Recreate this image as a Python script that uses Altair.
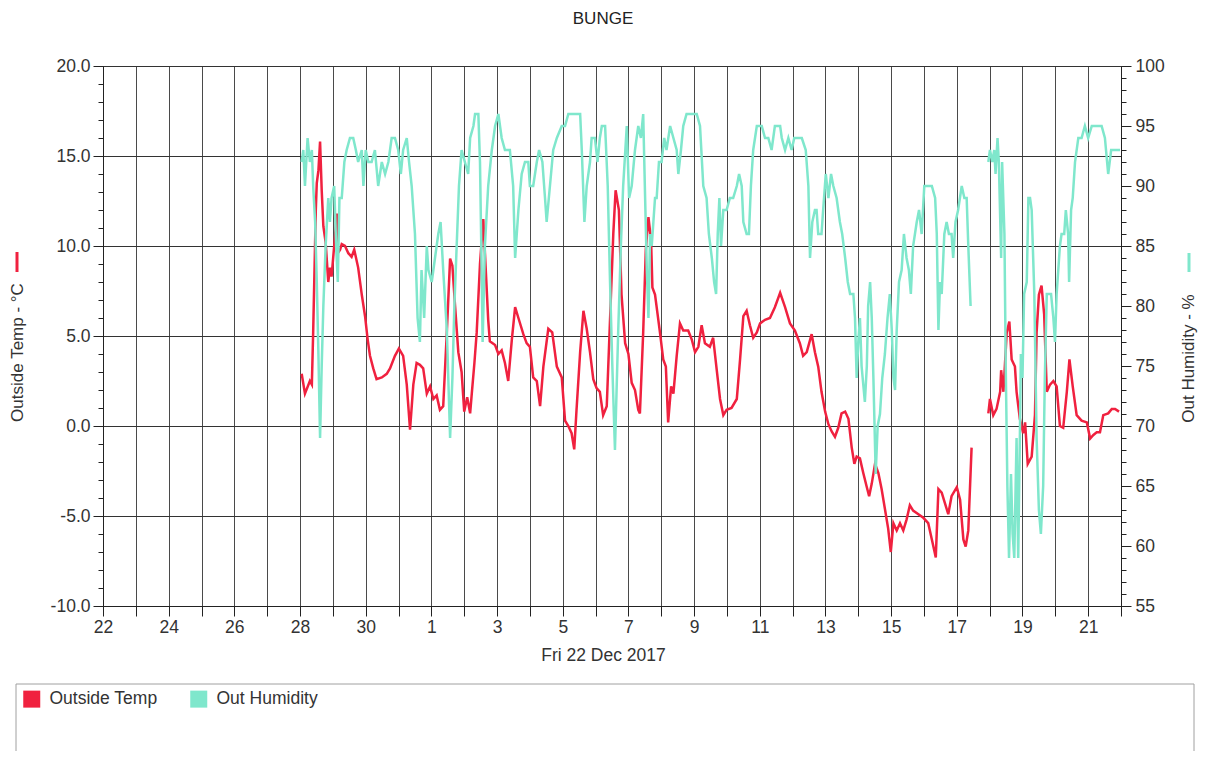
import altair as alt
import pandas as pd

# ---------------- data (day index: 0 = first x label "22") ----------------
chart_title = "BUNGE"
x_labels = ['22', '24', '26', '28', '30', '1', '3', '5', '7', '9', '11',
            '13', '15', '17', '19', '21']

temp_day1 = [6.05, 6.15, 6.30, 6.36, 6.40, 6.48, 6.51, 6.56, 6.61, 6.66, 6.71, 6.78, 6.86, 6.91, 6.96,
             7.04, 7.12, 7.15, 7.22, 7.27, 7.37, 7.47, 7.57, 7.65, 7.77, 7.88, 7.98, 8.06, 8.13, 8.23,
             8.33, 8.49, 8.64, 8.74, 8.89, 9.01, 9.14, 9.25, 9.35, 9.45, 9.55, 9.65, 9.75, 9.86, 9.96,
             10.06, 10.16, 10.26, 10.36, 10.47, 10.57, 10.64, 10.72, 10.82, 10.92, 11.00, 11.09, 11.18,
             11.23, 11.31, 11.38, 11.48, 11.58, 11.65, 11.73, 11.78, 11.94, 12.04, 12.14, 12.24, 12.34,
             12.45, 12.55, 12.65, 12.80, 12.90, 13.00, 13.10, 13.21, 13.31, 13.41, 13.56, 13.68, 13.82,
             13.97, 14.07, 14.17, 14.27, 14.35, 14.42, 14.53, 14.63, 14.73, 14.83, 14.93, 15.03, 15.13,
             15.23, 15.34, 15.44, 15.54, 15.61, 15.71, 15.79, 15.90, 16.00, 16.10, 16.20, 16.30, 16.35,
             16.45, 16.53, 16.61, 16.69, 16.73, 16.81, 16.86, 16.96, 17.06, 17.14, 17.21, 17.30, 17.37,
             17.47, 17.57, 17.67, 17.82, 17.93, 18.03, 18.13, 18.23, 18.33, 18.48, 18.58, 18.69, 18.79,
             18.89, 18.99, 19.14, 19.30, 19.40, 19.50, 19.60, 19.70, 19.80, 19.91, 20.01, 20.16, 20.31,
             20.46, 20.62, 20.77, 20.92, 21.07, 21.22, 21.32, 21.43, 21.58, 21.68, 21.78, 21.88, 21.99,
             22.09, 22.19, 22.29, 22.39, 22.49, 22.60, 22.70, 22.80, 22.88, 22.95, 23.05, 23.15, 23.26,
             23.33, 23.41, 23.51, 23.61, 23.71, 23.81, 23.91, 23.99, 24.07, 24.17, 24.27, 24.37, 24.47,
             24.57, 24.67, 24.83, 24.98, 25.13, 25.24, 25.36, 25.44, 25.54, 25.64, 25.74, 25.84, 26.00,
             26.10, 26.20, 26.27, 26.35, 26.45]
temp_val1 = [2.9, 1.8, 2.5, 2.3, 5.2, 12.0, 13.5, 14.2, 15.8, 13.1, 11.1, 10.2, 8.0, 8.8, 8.3,
             10.0, 11.8, 9.6, 9.8, 10.1, 10.0, 9.6, 9.4, 9.8, 8.8, 7.3, 6.1, 4.8, 3.9, 3.2,
             2.6, 2.7, 2.9, 3.2, 3.9, 4.3, 3.9, 2.3, -0.2, 2.3, 3.5, 3.4, 3.2, 1.8, 2.2,
             1.5, 1.7, 0.9, 1.1, 5.2, 9.3, 8.9, 6.7, 4.1, 3.0, 0.8, 1.6, 0.7,
             1.8, 3.5, 5.2, 9.0, 11.5, 8.9, 5.9, 4.7, 4.5, 4.0, 4.2, 3.5, 2.5,
             4.8, 6.6, 6.0, 5.1, 4.6, 4.4, 2.7, 2.5, 1.1, 3.3, 5.4, 5.2, 3.3,
             2.7, 0.3, 0.0, -0.4, -1.3, 0.9, 4.1, 6.4, 5.4, 4.1, 2.6, 2.1, 1.9,
             0.6, 1.1, 5.9, 10.7, 13.1, 12.0, 7.3, 4.6, 4.0, 2.4, 2.0, 0.9, 0.7,
             5.2, 9.8, 11.6, 10.3, 7.7, 7.3, 6.6, 5.2, 3.7, 3.3, 0.2, 2.2, 1.8,
             3.9, 5.7, 5.3, 5.3, 4.8, 4.1, 4.4, 5.6, 4.6, 4.4, 4.9, 3.1, 1.5,
             0.6, 0.9, 1.0, 1.5, 3.7, 6.1, 6.4, 5.6, 4.9, 5.2, 5.7, 5.9, 6.0,
             6.6, 7.4, 6.6, 5.7, 5.3, 4.6, 3.9, 4.1, 5.1, 4.1, 3.3, 1.9, 0.8,
             0.1, -0.3, -0.6, -0.1, 0.7, 0.8, 0.4, -1.2, -2.1, -1.7, -1.8, -2.6, -3.4,
             -3.9, -3.2, -2.1, -2.6, -3.5, -4.6, -5.7, -7.0, -5.4, -5.8, -5.4, -5.8, -5.2,
             -4.4, -4.7, -4.9, -5.1, -5.4, -6.3, -7.3, -3.5, -3.7, -4.3, -4.9, -3.9, -3.4,
             -4.1, -6.3, -6.7, -5.8, -1.2]

temp_day2 = [26.96, 27.01, 27.11, 27.21, 27.32, 27.35, 27.42, 27.52, 27.60, 27.67, 27.77, 27.82,
             27.92, 28.02, 28.08, 28.16, 28.28, 28.38, 28.43, 28.50, 28.58, 28.66, 28.74, 28.84,
             28.94, 29.04, 29.14, 29.24, 29.35, 29.43, 29.53, 29.65, 29.80, 29.96, 30.06, 30.16,
             30.26, 30.36, 30.46, 30.61, 30.72, 30.82, 30.94]
temp_val2 = [0.7, 1.5, 0.6, 0.95, 1.9, 3.1, 1.9, 5.2, 5.8, 3.7, 3.3, 1.9,
             0.4, -0.4, 0.2, -2.1, -1.7, 0.6, 5.2, 7.3, 7.8, 6.2, 1.9, 2.3,
             2.5, 2.2, 0.0, -0.1, 1.9, 3.7, 2.2, 0.6, 0.3, 0.2, -0.7, -0.5,
             -0.35, -0.35, 0.6, 0.7, 0.95, 0.95, 0.8]

hum_day1 = [6.05, 6.10, 6.15, 6.23, 6.30, 6.36, 6.40, 6.46, 6.51, 6.56, 6.61, 6.66, 6.71, 6.78, 6.86,
            6.91, 6.96, 7.04, 7.10, 7.15, 7.20, 7.27, 7.35, 7.42, 7.52, 7.62, 7.70, 7.77, 7.88, 7.93,
            8.00, 8.08, 8.18, 8.28, 8.38, 8.49, 8.59, 8.69, 8.79, 8.89, 8.99, 9.07, 9.14, 9.25, 9.32,
            9.40, 9.50, 9.58, 9.65, 9.70, 9.78, 9.86, 9.91, 10.01, 10.11, 10.21, 10.28, 10.36, 10.47,
            10.57, 10.64, 10.70, 10.77, 10.84, 10.92, 11.02, 11.12, 11.18, 11.28, 11.33, 11.43, 11.48,
            11.53, 11.56, 11.63, 11.73, 11.84, 11.94, 12.04, 12.14, 12.24, 12.39, 12.49, 12.55, 12.65,
            12.75, 12.85, 12.95, 13.00, 13.10, 13.21, 13.28, 13.38, 13.46, 13.51, 13.61, 13.71, 13.82,
            13.97, 14.07, 14.17, 14.32, 14.53, 14.58, 14.66, 14.73, 14.83, 14.88, 14.98, 15.06, 15.13,
            15.19, 15.29, 15.37, 15.44, 15.51, 15.59, 15.69, 15.77, 15.84, 15.95, 16.02, 16.10, 16.20,
            16.30, 16.38, 16.45, 16.50, 16.56, 16.61, 16.66, 16.71, 16.76, 16.81, 16.86, 16.93, 17.01,
            17.09, 17.16, 17.27, 17.37, 17.47, 17.52, 17.60, 17.67, 17.77, 17.93, 18.08, 18.18, 18.28,
            18.38, 18.45, 18.54, 18.61, 18.67, 18.72, 18.77, 18.82, 18.89, 18.99, 19.09, 19.19, 19.30,
            19.37, 19.45, 19.50, 19.60, 19.67, 19.73, 19.80, 19.91, 20.06, 20.16, 20.26, 20.36, 20.46,
            20.62, 20.67, 20.77, 20.87, 20.97, 21.05, 21.17, 21.28, 21.40, 21.48, 21.53, 21.60, 21.68,
            21.73, 21.78, 21.88, 21.93, 22.01, 22.09, 22.17, 22.24, 22.34, 22.44, 22.51, 22.60, 22.68,
            22.75, 22.85, 22.90, 22.95, 23.00, 23.05, 23.10, 23.20, 23.26, 23.30, 23.36, 23.41, 23.46,
            23.53, 23.59, 23.66, 23.73, 23.81, 23.89, 23.96, 24.02, 24.07, 24.12, 24.17, 24.24, 24.32,
            24.39, 24.47, 24.54, 24.60, 24.67, 24.78, 24.85, 24.93, 25.01, 25.11, 25.24, 25.34, 25.39,
            25.44, 25.49, 25.54, 25.62, 25.69, 25.76, 25.84, 25.89, 25.96, 26.04, 26.15, 26.23, 26.30,
            26.35, 26.42]
hum_val1 = [92, 93, 90, 94, 92, 93, 90, 87, 82, 76, 69, 75, 80, 85, 89,
            87, 89, 90, 85, 82, 89, 89, 92, 93, 94, 94, 93, 92, 93, 90,
            93, 92, 92, 93, 90, 92, 91, 92, 94, 94, 93, 91, 93, 94, 92,
            90, 86, 79, 77, 83, 79, 85, 83, 82, 84, 86, 87, 83, 78,
            69, 74, 80, 85, 90, 93, 92, 91, 94, 95, 96, 96, 92,
            83, 77, 85, 90, 93, 95, 96, 94, 93, 93, 90, 84, 88,
            91, 92, 92, 90, 90, 92, 93, 92, 89, 87, 90, 93, 94,
            95, 95, 96, 96, 96, 93, 87, 90, 92, 94, 94, 92, 94,
            95, 95, 90, 82, 75, 68, 78, 85, 90, 95, 89, 90, 93,
            95, 94, 96, 90, 83, 79, 86, 85, 87, 89, 89, 92, 92,
            94, 93, 95, 94, 93, 91, 93, 95, 96, 96, 96, 95, 90,
            89, 86, 84, 82, 81, 86, 89, 85, 88, 88, 89, 89, 90,
            91, 90, 87, 86, 86, 90, 93, 95, 95, 94, 94, 93, 95,
            95, 94, 93, 94, 93, 94, 94, 94, 93, 90, 84, 87, 88,
            88, 86, 86, 88, 91, 89, 91, 90, 89, 87, 86, 84, 82,
            81, 81, 79, 74, 77, 79, 75, 72, 75, 80, 82, 79, 74,
            66, 70, 71, 74, 76, 79, 81, 78, 74, 73, 78, 82, 83,
            86, 84, 83, 81, 85, 87, 88, 86, 90, 90, 90, 89, 86,
            78, 82, 81, 86, 87, 86, 86, 84, 87, 88, 90, 89, 89,
            85, 80]

hum_day2 = [26.96, 27.01, 27.08, 27.14, 27.18, 27.24, 27.28, 27.35, 27.38, 27.45, 27.49, 27.54,
            27.59, 27.65, 27.70, 27.75, 27.82, 27.87, 27.92, 27.95, 28.00, 28.05, 28.13, 28.18,
            28.23, 28.28, 28.36, 28.43, 28.50, 28.56, 28.63, 28.68, 28.74, 28.81, 28.87, 28.94,
            28.99, 29.04, 29.09, 29.14, 29.19, 29.27, 29.32, 29.39, 29.42, 29.48, 29.53, 29.60,
            29.70, 29.80, 29.90, 30.00, 30.11, 30.26, 30.41, 30.51, 30.61, 30.70, 30.80, 30.92, 30.97]
hum_val2 = [92, 93, 92, 93, 91, 94, 92, 84, 92, 86, 75, 65,
            59, 66, 61, 59, 69, 59, 69, 76, 74, 81, 82, 89,
            89, 88, 81, 69, 63, 61, 65, 74, 81, 81, 81, 79,
            77, 81, 83, 85, 86, 86, 88, 86, 82, 88, 89, 92,
            94, 94, 95, 94, 95, 95, 95, 94, 91, 93, 93, 93, 93]

series_names = ['Outside Temp', 'Out Humidity']
temp_ticks = [-10, -5, 0, 5, 10, 15, 20]
hum_ticks = [55, 60, 65, 70, 75, 80, 85, 90, 95, 100]

# ---------------- styling ----------------
FONT = "Liberation Sans"
RED = "#F0213F"
TEAL = "#7FE7CC"
TXT = "#333333"
FS = 17.5

temp_df = pd.DataFrame({
    'day': temp_day1 + temp_day2,
    'value': temp_val1 + temp_val2,
    'seg': [1] * len(temp_day1) + [2] * len(temp_day2),
})
hum_df = pd.DataFrame({
    'day': hum_day1 + hum_day2,
    'value': hum_val1 + hum_val2,
    'seg': [1] * len(hum_day1) + [2] * len(hum_day2),
})
legend_df = pd.DataFrame({'series': series_names})
one = pd.DataFrame({'a': [0]})
title_df = pd.DataFrame({'t': [chart_title]})

label_js = "[" + ",".join("'" + s + "'" for s in x_labels) + "]"
x_axis = alt.Axis(
    values=list(range(0, 32)),
    labelExpr="datum.value % 2 == 0 && datum.value < 31 ? " + label_js + "[datum.value / 2] : ''",
    grid=True, gridColor="#4a4a4a", gridWidth=1,
    tickSize=10, tickColor="#222222", domainColor="#222222",
    labelFont=FONT, labelFontSize=FS, labelColor=TXT, labelPadding=2,
    labelFlush=False, labelOverlap=False,
    title="Fri 22 Dec 2017", titleFont=FONT, titleFontSize=FS, titleFontWeight="normal",
    titleColor=TXT, titleX=500, titleY=49, titleAlign="center", titleBaseline="middle",
)
x_scale = alt.Scale(domain=[0, 31], nice=False, zero=False)
x_enc = alt.X('day:Q', scale=x_scale, axis=x_axis)

temp_scale = alt.Scale(domain=[-10, 20], nice=False, zero=False)
hum_scale = alt.Scale(domain=[55, 100], nice=False, zero=False)

temp_axis = alt.Axis(
    orient="left", values=temp_ticks, format=".1f",
    labelExpr="replace(datum.label, '\u2212', '-')",
    grid=True, gridColor="#333333", gridWidth=1,
    tickSize=10, tickColor="#222222", domainColor="#222222",
    labelFont=FONT, labelFontSize=FS, labelColor=TXT, labelPadding=3,
    title="Outside Temp - °C", titleFont=FONT, titleFontSize=17, titleFontWeight="normal",
    titleColor=TXT, titleAngle=270, titleX=-86, titleY=286,
    titleAlign="center", titleBaseline="middle",
)
temp_minor_axis = alt.Axis(
    orient="left", values=list(range(-10, 21)), labels=False, domain=False, grid=False,
    tickSize=5, tickColor="#222222", title="",
)
hum_axis = alt.Axis(
    orient="right", values=hum_ticks, format="d", grid=False,
    tickSize=10, tickColor="#222222", domainColor="#222222",
    labelFont=FONT, labelFontSize=FS, labelColor=TXT, labelPadding=4,
    title="Out Humidity - %", titleFont=FONT, titleFontSize=17, titleFontWeight="normal",
    titleColor=TXT, titleAngle=270, titleX=67, titleY=292,
    titleAlign="center", titleBaseline="middle",
)
hum_minor_axis = alt.Axis(
    orient="right", values=list(range(55, 101)), labels=False, domain=False, grid=False,
    tickSize=5, tickColor="#222222", title="",
)

box = alt.Chart(one).mark_rect(fill="white", stroke="#a0a0a0", strokeWidth=1).encode(
    x=alt.value(-87), x2=alt.value(1091), y=alt.value(618), y2=alt.value(720)
)

title_mark = alt.Chart(title_df).mark_text(
    font=FONT, fontSize=17, color="#222222", align="center", baseline="alphabetic"
).encode(x=alt.value(500), y=alt.value(-42), text='t:N')

temp_line = alt.Chart(temp_df).mark_line(color=RED, strokeWidth=2.5).encode(
    x=x_enc, y=alt.Y('value:Q', scale=temp_scale, axis=temp_axis), detail='seg:N'
)
temp_minor = alt.Chart(temp_df).mark_point(opacity=0).encode(
    x=x_enc, y=alt.Y('value:Q', scale=temp_scale, axis=temp_minor_axis)
)
hum_line = alt.Chart(hum_df).mark_line(color=TEAL, strokeWidth=2.5).encode(
    x=x_enc, y=alt.Y('value:Q', scale=hum_scale, axis=hum_axis), detail='seg:N'
)
hum_minor = alt.Chart(hum_df).mark_point(opacity=0).encode(
    x=x_enc, y=alt.Y('value:Q', scale=hum_scale, axis=hum_minor_axis)
)

legend_layer = alt.Chart(legend_df).mark_point(filled=True, shape="square", opacity=0).encode(
    color=alt.Color('series:N',
                    scale=alt.Scale(domain=series_names, range=[RED, TEAL]),
                    legend=alt.Legend(orient="none", legendX=-80, legendY=624,
                                      direction="horizontal", title=None,
                                      symbolType="square", symbolSize=289,
                                      symbolOpacity=1, symbolStrokeWidth=0,
                                      labelFont=FONT, labelFontSize=FS, labelColor=TXT,
                                      labelOffset=9, columnPadding=32, padding=0))
)

red_mark = alt.Chart(one).mark_rule(color=RED, strokeWidth=3).encode(
    x=alt.value(-86), y=alt.value(186), y2=alt.value(206)
)
teal_mark = alt.Chart(one).mark_rule(color=TEAL, strokeWidth=3).encode(
    x=alt.value(1086), y=alt.value(187), y2=alt.value(206)
)

chart = alt.layer(
    box, title_mark, temp_line, temp_minor, hum_line, hum_minor, legend_layer, red_mark, teal_mark
).resolve_scale(y='independent').properties(
    width=1018, height=540,
    autosize=alt.AutoSizeParams(type="none"),
    padding={"left": 95, "top": 58, "right": 77, "bottom": 145},
).configure_view(stroke=None).configure(background="white")

chart.save("out.html", embed_options={"renderer": "svg", "actions": False})
